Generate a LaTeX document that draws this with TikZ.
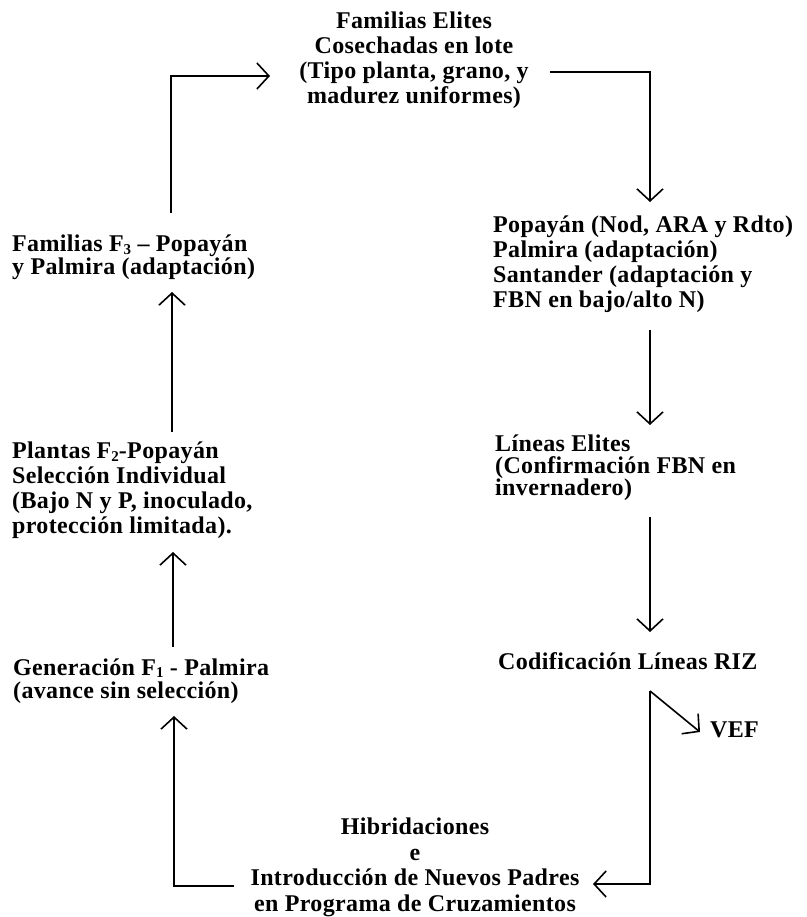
\documentclass[tikz,border=0pt]{standalone}
\usepackage{fontspec}
\setmainfont{Liberation Serif}[LetterSpace=1.5,UprightFont=* Bold]
\usetikzlibrary{arrows.meta}
\newcommand\lowsub[1]{\raisebox{-0.1em}{\fontsize{15}{15}\selectfont #1}}
\begin{document}
\begin{tikzpicture}[x=1pt,y=-1pt,
  lbl/.style={inner sep=0pt,font=\fontsize{24}{25}\selectfont},
  arr/.style={line width=1.6pt,-{Straight Barb[length=12pt,width=26pt,line width=1.6pt]}}]
\useasboundingbox (0,0) rectangle (806,917);
% nodes
\node[lbl,align=center] (A) at (414,60.5) {Familias Elites\\Cosechadas en lote\\(Tipo planta, grano, y\\madurez uniformes)};
\node[lbl,align=left,anchor=west] (B) at (493,264.5) {Popayán (Nod, ARA y Rdto)\\Palmira (adaptación)\\Santander (adaptación y\\FBN en bajo/alto N)};
\node[lbl,align=left,anchor=west,font=\fontsize{24}{22}\selectfont] (C) at (495,468) {Líneas Elites\\(Confirmación FBN en\\invernadero)};
\node[lbl,anchor=west] (D) at (498,661) {Codificación Líneas RIZ};
\node[lbl,anchor=west] (E) at (710,729.5) {VEF};
\node[lbl,align=center,font=\fontsize{24}{25.5}\selectfont] (F) at (415,867.5) {Hibridaciones\\e\\Introducción de Nuevos Padres\\en Programa de Cruzamientos};
\node[lbl,align=left,anchor=west,font=\fontsize{24}{23}\selectfont] (G) at (13,681) {Generación F\lowsub{1} - Palmira\\(avance sin selección)};
\node[lbl,align=left,anchor=west] (H) at (12,490.5) {Plantas F\lowsub{2}-Popayán\\Selección Individual\\(Bajo N y P, inoculado,\\protección limitada).};
\node[lbl,align=left,anchor=west,font=\fontsize{24}{23}\selectfont] (I) at (12,257.5) {Familias F\lowsub{3} -- Popayán\\y Palmira (adaptación)};
% connector points
\coordinate (i1) at (171,213);
\coordinate (a1) at (270,76);
\coordinate (a2) at (550,72);
\coordinate (b1) at (650,202);
\coordinate (b2) at (650,330);
\coordinate (c1) at (650,425);
\coordinate (c2) at (650,517);
\coordinate (d1) at (650,632);
\coordinate (d2) at (650,691);
\coordinate (e1) at (700,732);
\coordinate (f1) at (593,884);
\coordinate (f2) at (234,886);
\coordinate (g1) at (174,716);
\coordinate (g2) at (173,647);
\coordinate (h1) at (173,552);
\coordinate (h2) at (172,432);
\coordinate (i2) at (172,292);
% connectors
\draw[arr] (i1) |- (a1);
\draw[arr] (a2) -| (b1);
\draw[arr] (b2) -- (c1);
\draw[arr] (c2) -- (d1);
\draw[arr] (d2) -- (e1);
\draw[arr] (d2) |- (f1);
\draw[arr] (f2) -| (g1);
\draw[arr] (g2) -- (h1);
\draw[arr] (h2) -- (i2);
\end{tikzpicture}
\end{document}
